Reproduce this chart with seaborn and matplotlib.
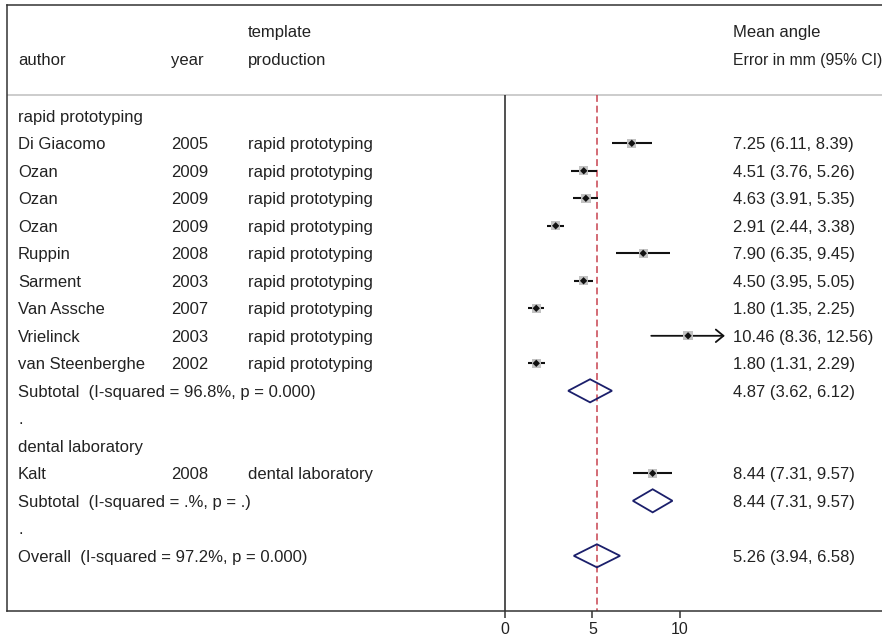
import matplotlib
matplotlib.use("Agg")
import matplotlib.pyplot as plt
import seaborn as sns
import pandas as pd
import numpy as np

# ---- data ----
authors = ["Di Giacomo", "Ozan", "Ozan", "Ozan", "Ruppin", "Sarment",
           "Van Assche", "Vrielinck", "van Steenberghe"]
years = [2005, 2009, 2009, 2009, 2008, 2003, 2007, 2003, 2002]
est = [7.25, 4.51, 4.63, 2.91, 7.90, 4.50, 1.80, 10.46, 1.80]
lcl = [6.11, 3.76, 3.91, 2.44, 6.35, 3.95, 1.35, 8.36, 1.31]
ucl = [8.39, 5.26, 5.35, 3.38, 9.45, 5.05, 2.25, 12.56, 2.29]

lab_authors = ["Kalt"]
lab_years = [2008]
lab_est = [8.44]
lab_lcl = [7.31]
lab_ucl = [9.57]

sub_labels = ["Subtotal  (I-squared = 96.8%, p = 0.000)",
              "Subtotal  (I-squared = .%, p = .)"]
sub_est = [4.87, 8.44]
sub_lcl = [3.62, 7.31]
sub_ucl = [6.12, 9.57]

overall_label = "Overall  (I-squared = 97.2%, p = 0.000)"
overall_est = 5.26
overall_lcl = 3.94
overall_ucl = 6.58

groups = ["rapid prototyping", "dental laboratory"]
xticks = [0, 5, 10]
clip_max = 12.56  # studies reaching this get an arrow

# ---- build rows ----
rows = []
rows.append(dict(kind="group", label=groups[0]))
for a, y, e, l, u in zip(authors, years, est, lcl, ucl):
    rows.append(dict(kind="study", author=a, year=y, prod=groups[0], est=e, lcl=l, ucl=u))
rows.append(dict(kind="sub", label=sub_labels[0], est=sub_est[0], lcl=sub_lcl[0], ucl=sub_ucl[0]))
rows.append(dict(kind="dot", label="."))
rows.append(dict(kind="group", label=groups[1]))
for a, y, e, l, u in zip(lab_authors, lab_years, lab_est, lab_lcl, lab_ucl):
    rows.append(dict(kind="study", author=a, year=y, prod=groups[1], est=e, lcl=l, ucl=u))
rows.append(dict(kind="sub", label=sub_labels[1], est=sub_est[1], lcl=sub_lcl[1], ucl=sub_ucl[1]))
rows.append(dict(kind="dot", label="."))
rows.append(dict(kind="sub", label=overall_label, est=overall_est, lcl=overall_lcl, ucl=overall_ucl))
df = pd.DataFrame(rows)
df["row"] = np.arange(len(df))

# ---- style ----
sns.set_style("white")
plt.rcParams["font.family"] = ["Liberation Sans", "DejaVu Sans"]
FS = 12
TXT = "#222222"

fig = plt.figure(figsize=(8.82, 6.42), dpi=100)
W, H = 882, 642
ax = fig.add_axes([7 / W, (H - 611) / H, (W - 7) / W, (611 - 5) / H])

px_per_unit = 17.53
x0_px = 504.7
ax.set_xlim((7 - x0_px) / px_per_unit, (882 - x0_px) / px_per_unit)
row0_px, row_step = 115.8, 27.5
ax.set_ylim((611 - row0_px) / row_step, (5 - row0_px) / row_step)
grey_y = (95 - row0_px) / row_step

for s in ["top", "left", "bottom"]:
    ax.spines[s].set_color("#333333")
    ax.spines[s].set_linewidth(1.1)
ax.spines["right"].set_visible(False)

ax.set_xticks(xticks)
ax.set_xticklabels([str(t) for t in xticks])
ax.set_yticks([])
ax.tick_params(axis="x", direction="out", length=5, width=1.1, color="#333333",
               labelsize=11.5, pad=3, labelcolor=TXT, bottom=True)

# header separator
ax.axhline(grey_y, color="#cccccc", lw=1.4, zorder=1)
# null line and overall line
ax.vlines(0, grey_y, ax.get_ylim()[0], color="#222222", lw=1.1, zorder=2)
ax.vlines(overall_est, grey_y, ax.get_ylim()[0], color="#c8424f", lw=1.1,
          linestyles=(0, (4.5, 2.5)), zorder=2)

# studies
st = df[df.kind == "study"].copy()
normal = st[st.ucl < clip_max]
arrow = st[st.ucl >= clip_max]
ax.hlines(normal.row, normal.lcl, normal.ucl, color="#111111", lw=1.5, zorder=3)
for _, r in arrow.iterrows():
    ax.annotate("", xy=(r.ucl, r.row), xytext=(r.lcl, r.row),
                arrowprops=dict(arrowstyle="->,head_length=0.55,head_width=0.45",
                                mutation_scale=10, lw=1.3, color="#111111",
                                shrinkA=0, shrinkB=0), zorder=3)
sns.scatterplot(data=st, x="est", y="row", marker="s", s=45, color="#c2c2c2",
                edgecolor="none", ax=ax, zorder=4, legend=False)
sns.scatterplot(data=st, x="est", y="row", marker="D", s=14, color="#111111",
                edgecolor="none", ax=ax, zorder=5, legend=False)
ax.set_xlabel("")
ax.set_ylabel("")

# diamonds
hh = 0.42
for _, r in df[df.kind == "sub"].iterrows():
    ax.fill([r.lcl, r.est, r.ucl, r.est, r.lcl],
            [r.row, r.row - hh, r.row, r.row + hh, r.row],
            facecolor="none", edgecolor="#1b1f6b", lw=1.3, zorder=4)

# ---- texts ----
tr = ax.get_yaxis_transform()
cx = {"author": (18 - 7) / (W - 7), "year": (171 - 7) / (W - 7),
      "prod": (248 - 7) / (W - 7), "mean": (733 - 7) / (W - 7)}
kw = dict(transform=tr, fontsize=FS, color=TXT, va="center_baseline", ha="left")

h1 = (31 - row0_px) / row_step
h2 = (59 - row0_px) / row_step
ax.text(cx["prod"], h1, "template", **kw)
ax.text(cx["mean"], h1, "Mean angle", **kw)
ax.text(cx["author"], h2, "author", **kw)
ax.text(cx["year"], h2, "year", **kw)
ax.text(cx["prod"], h2, "production", **kw)
kw_small = dict(kw)
kw_small["fontsize"] = 11.3
ax.text(cx["mean"], h2, "Error in mm (95% CI)", **kw_small)

for _, r in df.iterrows():
    if r.kind in ("group", "dot", "sub"):
        ax.text(cx["author"], r.row, r.label, **kw)
    if r.kind == "study":
        ax.text(cx["author"], r.row, r.author, **kw)
        ax.text(cx["year"], r.row, str(int(r.year)), **kw)
        ax.text(cx["prod"], r.row, r["prod"], **kw)
    if r.kind in ("study", "sub"):
        ax.text(cx["mean"], r.row, f"{r.est:.2f} ({r.lcl:.2f}, {r.ucl:.2f})", **kw)

fig.savefig("out.png", dpi=100)
